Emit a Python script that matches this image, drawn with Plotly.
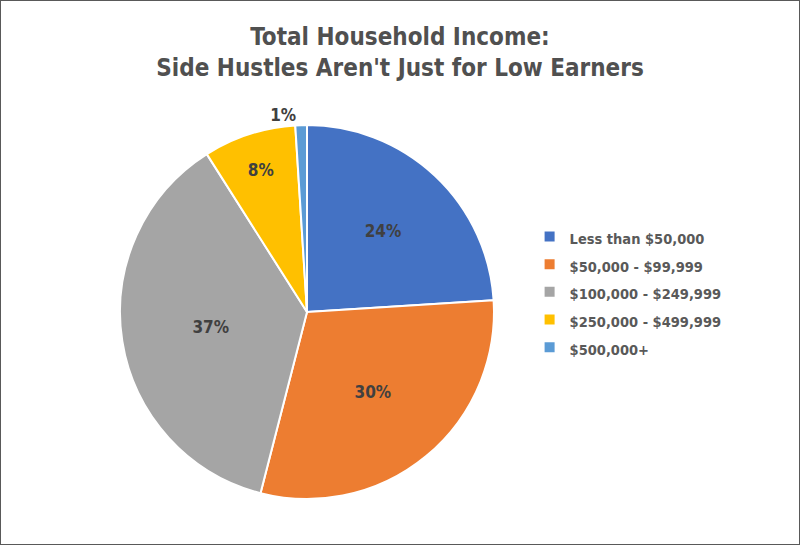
import plotly.graph_objects as go

categorias = ["Less than $50,000", "$50,000 - $99,999", "$100,000 - $249,999",
              "$250,000 - $499,999", "$500,000+"]
percentuais = [24, 30, 37, 8, 1]
cores = ["#4472C4", "#ED7D31", "#A5A5A5", "#FFC000", "#5B9BD5"]
posicao_texto = ["inside", "inside", "inside", "inside", "outside"]

fonte = "Liberation Sans Narrow, DejaVu Sans Condensed, Roboto, sans-serif"

# texto menor dentro de uma legenda com fonte maior -> mais espaço entre as linhas
rotulos_legenda = [f"<span style='font-size:14.5px'>{c}</span>" for c in categorias]

fig = go.Figure()

fig.add_trace(go.Pie(
    labels=rotulos_legenda,
    values=percentuais,
    sort=False,
    direction="clockwise",
    rotation=0,
    marker=dict(colors=cores, line=dict(color="white", width=2)),
    texttemplate="%{value}%",
    textposition=posicao_texto,
    insidetextorientation="horizontal",
    textfont=dict(family=fonte, size=17, color="#404040", weight="bold"),
    hoverinfo="label+percent",
    domain=dict(x=[0.15, 0.6175], y=[0.0844, 0.7706]),
))

fig.update_layout(
    title=dict(
        text="Total Household Income:<br>Side Hustles Aren't Just for Low Earners",
        x=0.5, xanchor="center", y=0.917, yanchor="middle",
        font=dict(family=fonte, size=24, color="#505050", weight="bold"),
    ),
    legend=dict(
        x=0.662, y=0.464, xanchor="left", yanchor="middle",
        font=dict(family=fonte, size=19, color="#595959", weight="bold"),
        tracegroupgap=0,
    ),
    shapes=[dict(type="rect", xref="paper", yref="paper", x0=0, y0=0, x1=1, y1=1,
                 line=dict(color="#595959", width=2))],
    paper_bgcolor="white",
    plot_bgcolor="white",
    width=800,
    height=545,
    margin=dict(l=0, r=0, t=0, b=0),
)

# tira a margem padrão do body para o gráfico ocupar a janela toda
fig.write_html("out.html", config={"displayModeBar": False},
               post_script="document.body.style.margin='0';")
